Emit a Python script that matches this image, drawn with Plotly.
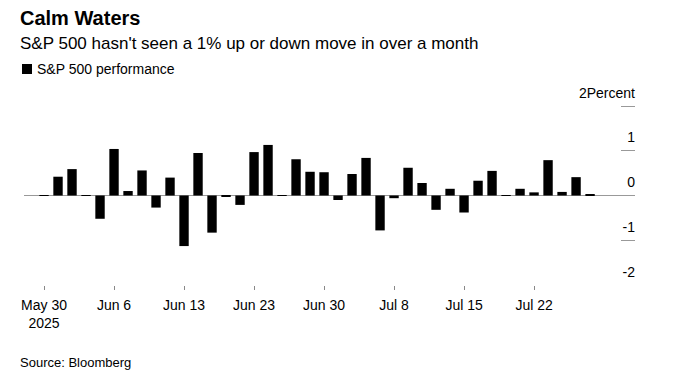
import plotly.graph_objects as go

# ---- data ----
dates = [
    "2025-05-30",
    "2025-06-02", "2025-06-03", "2025-06-04", "2025-06-05", "2025-06-06",
    "2025-06-09", "2025-06-10", "2025-06-11", "2025-06-12", "2025-06-13",
    "2025-06-16", "2025-06-17", "2025-06-18", "2025-06-20", "2025-06-23",
    "2025-06-24", "2025-06-25", "2025-06-26", "2025-06-27", "2025-06-30",
    "2025-07-01", "2025-07-02", "2025-07-03", "2025-07-07", "2025-07-08",
    "2025-07-09", "2025-07-10", "2025-07-11", "2025-07-14", "2025-07-15",
    "2025-07-16", "2025-07-17", "2025-07-18", "2025-07-21", "2025-07-22",
    "2025-07-23", "2025-07-24", "2025-07-25", "2025-07-28",
]
performance = [
    -0.01, 0.42, 0.59, 0.01, -0.52, 1.04,
    0.10, 0.56, -0.27, 0.40, -1.13,
    0.95, -0.83, -0.03, -0.21, 0.97,
    1.13, -0.01, 0.81, 0.53, 0.52,
    -0.10, 0.48, 0.84, -0.78, -0.06,
    0.62, 0.28, -0.32, 0.15, -0.38,
    0.33, 0.55, -0.01, 0.15, 0.07,
    0.79, 0.08, 0.41, 0.03,
]
x_tick_dates = ["2025-05-30", "2025-06-06", "2025-06-13", "2025-06-23",
                "2025-06-30", "2025-07-08", "2025-07-15", "2025-07-22"]
x_tick_labels = ["May 30<br>2025", "Jun 6", "Jun 13", "Jun 23",
                 "Jun 30", "Jul 8", "Jul 15", "Jul 22"]
y_tick_vals = [-2, -1, 0, 1, 2]
y_tick_labels = ["-2", "-1", "0", "1", "2Percent"]

title = "Calm Waters"
subtitle = "S&P 500 hasn't seen a 1% up or down move in over a month"
series_name = "S&P 500 performance"
source = "Source: Bloomberg"

# ---- layout geometry ----
W, H = 683, 381
L, R, T, B = 24, 635, 78, 285   # plot area (px); top extended so "2Percent" fits
Y_MIN, Y_MAX = -2, 2 + (106 - 78) / ((285 - 106) / 4)
FONT = "Liberation Sans, Arial, Helvetica, sans-serif"


def px_x(px):
    return (px - L) / (R - L)


def px_y(py):
    return (B - py) / (B - T)


fig = go.Figure()
fig.add_trace(go.Bar(
    x=dates, y=performance, name=series_name,
    marker=dict(color="#000000", line=dict(width=0)),
    showlegend=False,
))

fig.update_layout(
    width=W, height=H,
    margin=dict(l=L, r=W - R, t=T, b=H - B, pad=0, autoexpand=False),
    paper_bgcolor="white", plot_bgcolor="white",
    bargap=0.33,
    font=dict(family=FONT, size=14, color="#000"),
    xaxis=dict(
        type="category", range=[-1.43, 42.21],
        tickmode="array", tickvals=x_tick_dates, ticktext=x_tick_labels,
        ticks="outside", ticklen=4, tickwidth=1, tickcolor="#888",
        ticklabelstandoff=3,
        showgrid=False, zeroline=False, showline=False,
        tickfont=dict(family=FONT, size=14, color="#000"),
        fixedrange=True,
    ),
    yaxis=dict(
        side="right", range=[Y_MIN, Y_MAX],
        tickmode="array", tickvals=y_tick_vals, ticktext=y_tick_labels,
        ticks="inside", ticklen=14, tickwidth=1, tickcolor="#999",
        ticklabelposition="inside top",
        ticklabelstandoff=-3, ticklabelshift=-3,
        showgrid=False, showline=False,
        zeroline=True, zerolinecolor="#999", zerolinewidth=1,
        tickfont=dict(family=FONT, size=14, color="#000"),
        fixedrange=True,
    ),
)

# titles and source
fig.add_annotation(text="<b>" + title + "</b>", xref="paper", yref="paper",
                   x=px_x(18), y=px_y(18), xanchor="left", yanchor="middle",
                   showarrow=False, font=dict(family=FONT, size=20, color="#000"))
fig.add_annotation(text=subtitle, xref="paper", yref="paper",
                   x=px_x(18), y=px_y(44), xanchor="left", yanchor="middle",
                   showarrow=False, font=dict(family=FONT, size=17, color="#000"))
fig.add_annotation(text=series_name, xref="paper", yref="paper",
                   x=px_x(35), y=px_y(69), xanchor="left", yanchor="middle",
                   showarrow=False, font=dict(family=FONT, size=14, color="#000"))
fig.add_shape(type="rect", xref="paper", yref="paper",
              xsizemode="pixel", ysizemode="pixel",
              xanchor=px_x(27), yanchor=px_y(69),
              x0=-5, x1=5, y0=-5, y1=5,
              fillcolor="#000", line=dict(width=0))
fig.add_annotation(text=source, xref="paper", yref="paper",
                   x=px_x(18), y=px_y(362), xanchor="left", yanchor="middle",
                   showarrow=False, font=dict(family=FONT, size=13, color="#000"))

fig.write_html("out.html", config=dict(displayModeBar=False),
               post_script="document.body.style.margin='0';")
